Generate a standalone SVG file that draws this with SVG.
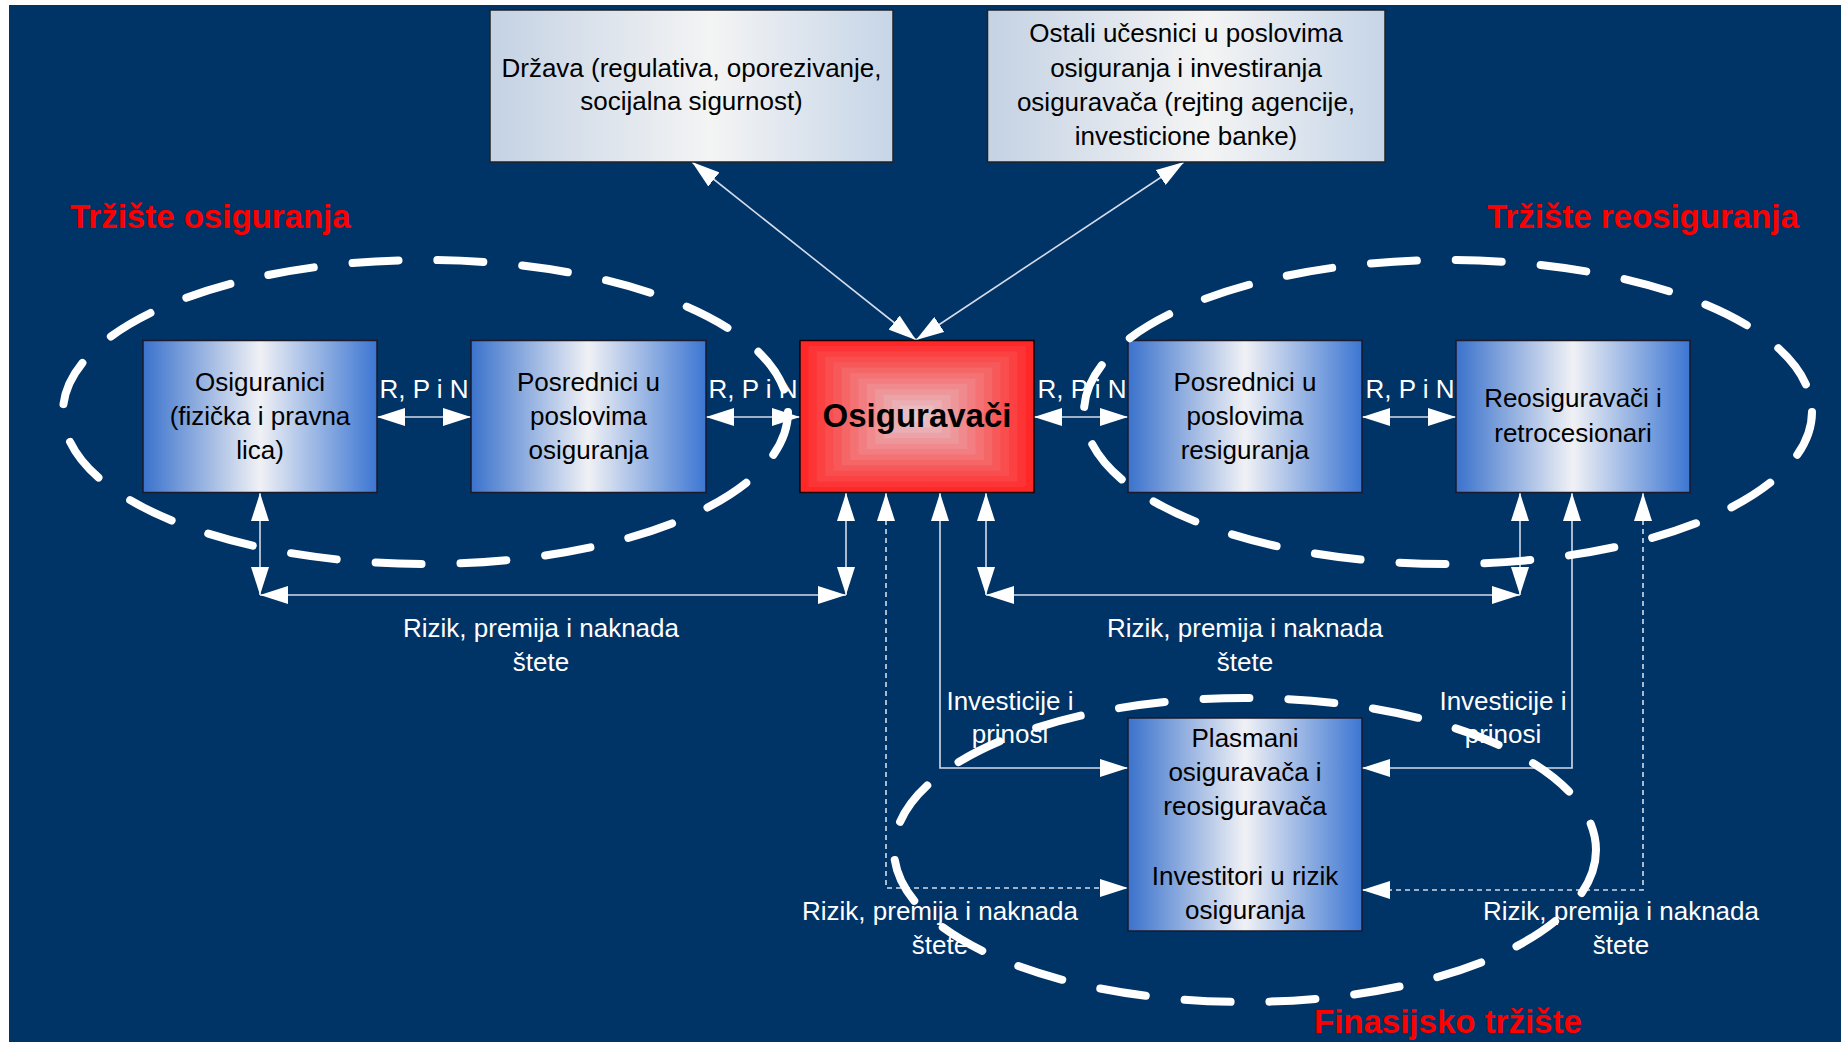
<svg xmlns="http://www.w3.org/2000/svg" width="1841" height="1042" viewBox="0 0 1841 1042">
<defs>
<style>
.nt{font-family:"Liberation Sans",Arial,sans-serif;font-size:26px;fill:#000;text-anchor:middle}
.lb{font-family:"Liberation Sans",Arial,sans-serif;font-size:26px;fill:#fff;text-anchor:middle}
.ttl{font-family:"Liberation Sans",Arial,sans-serif;font-size:33px;font-weight:bold;fill:#ff0000}
.blue{fill:url(#gBlue);stroke:#1a1a2a;stroke-width:1.5}
.grey{fill:url(#gGrey);stroke:#222;stroke-width:1.5}
.ln{fill:none;stroke:#d4dcea;stroke-width:1.6;marker-start:url(#ah);marker-end:url(#ah)}
.dsh{stroke-dasharray:5 4}
.ell{fill:none;stroke:#fff;stroke-width:8;stroke-dasharray:46 39;stroke-linecap:round}
</style>
<linearGradient id="gBlue" x1="0" y1="0" x2="1" y2="0">
<stop offset="0" stop-color="#3a72cc"/>
<stop offset="0.5" stop-color="#f0f1f5"/>
<stop offset="1" stop-color="#3c76d2"/>
</linearGradient>
<linearGradient id="gGrey" x1="0" y1="0" x2="1" y2="0">
<stop offset="0" stop-color="#c4d2e4"/>
<stop offset="0.55" stop-color="#f4f4f4"/>
<stop offset="1" stop-color="#c6d5e8"/>
</linearGradient>
<marker id="ah" markerUnits="userSpaceOnUse" markerWidth="28" markerHeight="18" refX="28" refY="9" orient="auto-start-reverse" viewBox="0 0 28 18">
<path d="M0,0 L28,9 L0,18 z" fill="#fff"/>
</marker>
</defs>

<rect x="0" y="0" width="1841" height="1042" fill="#fff"/>
<rect x="9" y="5" width="1832" height="1037" fill="#003366"/>

<g id="connectors">
<line class="ln" x1="916" y1="340" x2="692" y2="162"/>
<line class="ln" x1="916" y1="340" x2="1184" y2="162"/>
<line class="ln" x1="377" y1="417" x2="471" y2="417"/>
<line class="ln" x1="706" y1="417" x2="800" y2="417"/>
<line class="ln" x1="1034" y1="417" x2="1128" y2="417"/>
<line class="ln" x1="1362" y1="417" x2="1456" y2="417"/>
<line class="ln" x1="260" y1="493" x2="260" y2="595"/>
<line class="ln" x1="260" y1="595" x2="846" y2="595"/>
<line class="ln" x1="846" y1="493" x2="846" y2="595"/>
<line class="ln" x1="986" y1="493" x2="986" y2="595"/>
<line class="ln" x1="986" y1="595" x2="1520" y2="595"/>
<line class="ln" x1="1520" y1="493" x2="1520" y2="595"/>
<polyline class="ln" points="940,493 940,768 1128,768"/>
<polyline class="ln dsh" points="886,493 886,888 1128,888"/>
<polyline class="ln" points="1572,493 1572,768 1362,768"/>
<polyline class="ln dsh" points="1643,493 1643,890 1362,890"/>
</g>

<g id="drzava">
<rect class="grey" x="490" y="10" width="403" height="152"/>
<text class="nt" x="691.5" y="77">Država (regulativa, oporezivanje,</text>
<text class="nt" x="691.5" y="110">socijalna sigurnost)</text>
</g>

<g id="ostali">
<rect class="grey" x="987.5" y="10" width="397.5" height="152"/>
<text class="nt" x="1186" y="42">Ostali učesnici u poslovima</text>
<text class="nt" x="1186" y="76.5">osiguranja i investiranja</text>
<text class="nt" x="1186" y="111">osiguravača (rejting agencije,</text>
<text class="nt" x="1186" y="145">investicione banke)</text>
</g>

<g id="osiguranici">
<rect class="blue" x="143" y="340.5" width="234" height="152"/>
<text class="nt" x="260" y="391">Osiguranici</text>
<text class="nt" x="260" y="425">(fizička i pravna</text>
<text class="nt" x="260" y="459">lica)</text>
</g>

<g id="posrednici-osiguranja">
<rect class="blue" x="471" y="340.5" width="235" height="152"/>
<text class="nt" x="588.5" y="391">Posrednici u</text>
<text class="nt" x="588.5" y="425">poslovima</text>
<text class="nt" x="588.5" y="459">osiguranja</text>
</g>

<g id="osiguravaci">
<rect x="800" y="340.5" width="234" height="152" fill="#ff2828"/>
<rect x="808.4" y="345.9" width="217.3" height="141.1" fill="#fd3435"/>
<rect x="816.7" y="351.4" width="200.6" height="130.3" fill="#fb4141"/>
<rect x="825.1" y="356.8" width="183.9" height="119.4" fill="#f94d4e"/>
<rect x="833.4" y="362.2" width="167.1" height="108.6" fill="#f7595b"/>
<rect x="841.8" y="367.6" width="150.4" height="97.7" fill="#f56667"/>
<rect x="850.2" y="373.1" width="133.7" height="86.9" fill="#f47274"/>
<rect x="858.5" y="378.5" width="117" height="76" fill="#f27e81"/>
<rect x="866.9" y="383.9" width="100.3" height="65.1" fill="#f08a8e"/>
<rect x="875.2" y="389.4" width="83.6" height="54.3" fill="#ee979a"/>
<rect x="883.6" y="394.8" width="66.9" height="43.4" fill="#eca3a7"/>
<rect x="891.9" y="400.2" width="50.1" height="32.6" fill="#eaafb4"/>
<rect x="900.3" y="405.6" width="33.4" height="21.7" fill="#e8bcc0"/>
<rect x="908.6" y="411.1" width="16.7" height="10.9" fill="#e6c8cd"/>
<rect x="800" y="340.5" width="234" height="152" fill="none" stroke="#1a0000" stroke-width="1.5"/>
<text class="nt" x="917" y="427" style="font-size:33px;font-weight:bold">Osiguravači</text>
</g>

<g id="posrednici-resiguranja">
<rect class="blue" x="1128" y="340.5" width="234" height="152"/>
<text class="nt" x="1245" y="391">Posrednici u</text>
<text class="nt" x="1245" y="425">poslovima</text>
<text class="nt" x="1245" y="459">resiguranja</text>
</g>

<g id="reosiguravaci">
<rect class="blue" x="1456" y="340.5" width="234" height="152"/>
<text class="nt" x="1573" y="407">Reosiguravači i</text>
<text class="nt" x="1573" y="442">retrocesionari</text>
</g>

<g id="plasmani">
<rect class="blue" x="1128" y="718" width="234" height="213"/>
<text class="nt" x="1245" y="747">Plasmani</text>
<text class="nt" x="1245" y="781">osiguravača i</text>
<text class="nt" x="1245" y="815">reosiguravača</text>
<text class="nt" x="1245" y="885">Investitori u rizik</text>
<text class="nt" x="1245" y="919">osiguranja</text>
</g>

<g id="labels">
<text class="lb" x="424" y="398">R, P i N</text>
<text class="lb" x="753" y="398">R, P i N</text>
<text class="lb" x="1082" y="398">R, P i N</text>
<text class="lb" x="1410" y="398">R, P i N</text>
<text class="lb" x="541" y="637">Rizik, premija i naknada</text>
<text class="lb" x="541" y="671">štete</text>
<text class="lb" x="1245" y="637">Rizik, premija i naknada</text>
<text class="lb" x="1245" y="671">štete</text>
<text class="lb" x="1010" y="710">Investicije i</text>
<text class="lb" x="1010" y="743">prinosi</text>
<text class="lb" x="1503" y="710">Investicije i</text>
<text class="lb" x="1503" y="743">prinosi</text>
<text class="lb" x="940" y="920">Rizik, premija i naknada</text>
<text class="lb" x="940" y="954">štete</text>
<text class="lb" x="1621" y="920">Rizik, premija i naknada</text>
<text class="lb" x="1621" y="954">štete</text>
</g>

<g id="markets">
<ellipse class="ell" cx="425.5" cy="412" rx="362.5" ry="152"/>
<ellipse class="ell" cx="1448" cy="412" rx="364" ry="152"/>
<ellipse class="ell" cx="1245" cy="850" rx="351" ry="152"/>
<text class="ttl" x="70" y="228">Tržište osiguranja</text>
<text class="ttl" x="1487" y="228">Tržište reosiguranja</text>
<text class="ttl" x="1314" y="1033">Finasijsko tržište</text>
</g>
</svg>
